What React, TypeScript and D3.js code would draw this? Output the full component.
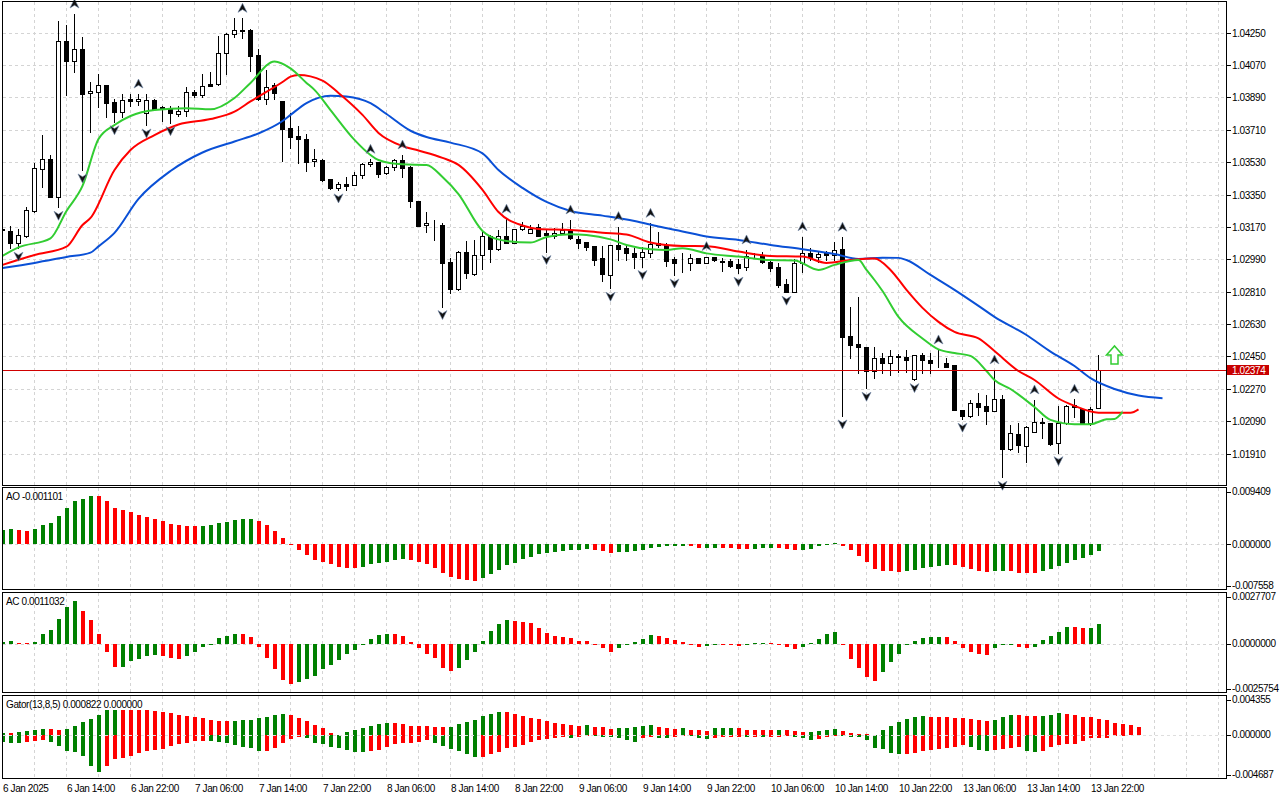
import React, { useEffect, useRef } from 'react';
import * as d3 from 'd3';

// H1 candles, one row per bar: open, high, low, close
type Candle = [number, number, number, number];

const candles: Candle[] = [
  [1.03159, 1.03176, 1.03142, 1.03153], [1.03148, 1.03176, 1.03052, 1.03083], [1.03083, 1.03157, 1.03052, 1.03124],
  [1.03120, 1.03283, 1.03113, 1.03263], [1.03259, 1.03524, 1.03255, 1.03496], [1.03491, 1.03681, 1.03394, 1.03546],
  [1.03546, 1.03570, 1.03336, 1.03338], [1.03338, 1.04315, 1.03279, 1.04204], [1.04204, 1.04293, 1.03904, 1.04095],
  [1.04095, 1.04354, 1.04033, 1.04158], [1.04158, 1.04225, 1.03487, 1.03909], [1.03913, 1.03978, 1.03700, 1.03928],
  [1.03922, 1.04021, 1.03839, 1.03959], [1.03959, 1.03962, 1.03783, 1.03861], [1.03865, 1.03880, 1.03755, 1.03808],
  [1.03808, 1.03908, 1.03783, 1.03876], [1.03880, 1.03908, 1.03844, 1.03872], [1.03870, 1.03909, 1.03848, 1.03882],
  [1.03805, 1.03909, 1.03737, 1.03876], [1.03876, 1.03882, 1.03820, 1.03824], [1.03835, 1.03843, 1.03761, 1.03828],
  [1.03826, 1.03843, 1.03750, 1.03802], [1.03797, 1.03843, 1.03787, 1.03815], [1.03815, 1.03947, 1.03787, 1.03919],
  [1.03922, 1.03932, 1.03891, 1.03904], [1.03904, 1.04021, 1.03894, 1.03956], [1.03963, 1.04033, 1.03954, 1.03956],
  [1.03963, 1.04232, 1.03961, 1.04136], [1.04136, 1.04247, 1.04021, 1.04243], [1.04241, 1.04330, 1.04228, 1.04265],
  [1.04265, 1.04330, 1.04219, 1.04261], [1.04265, 1.04269, 1.04039, 1.04122], [1.04126, 1.04158, 1.03878, 1.03880],
  [1.03880, 1.04043, 1.03854, 1.03950], [1.03959, 1.03969, 1.03880, 1.03913], [1.03870, 1.03872, 1.03539, 1.03715],
  [1.03719, 1.03802, 1.03611, 1.03672], [1.03676, 1.03731, 1.03527, 1.03661], [1.03659, 1.03687, 1.03483, 1.03533],
  [1.03535, 1.03602, 1.03509, 1.03548], [1.03542, 1.03546, 1.03427, 1.03431], [1.03437, 1.03438, 1.03381, 1.03387],
  [1.03387, 1.03420, 1.03376, 1.03409], [1.03409, 1.03446, 1.03376, 1.03398], [1.03405, 1.03477, 1.03403, 1.03459],
  [1.03457, 1.03527, 1.03442, 1.03518], [1.03518, 1.03546, 1.03507, 1.03530], [1.03530, 1.03533, 1.03450, 1.03465],
  [1.03468, 1.03511, 1.03466, 1.03504], [1.03502, 1.03548, 1.03487, 1.03542], [1.03542, 1.03570, 1.03450, 1.03500],
  [1.03505, 1.03509, 1.03279, 1.03316], [1.03313, 1.03315, 1.03175, 1.03177], [1.03179, 1.03255, 1.03144, 1.03190],
  [1.03185, 1.03209, 1.03098, 1.03184], [1.03181, 1.03190, 1.02727, 1.02971], [1.02974, 1.02996, 1.02801, 1.02824],
  [1.02824, 1.03038, 1.02820, 1.03029], [1.03029, 1.03092, 1.02885, 1.02913], [1.02907, 1.03098, 1.02905, 1.03014],
  [1.03014, 1.03153, 1.02938, 1.03120], [1.03120, 1.03125, 1.02977, 1.03046], [1.03046, 1.03153, 1.03042, 1.03120],
  [1.03120, 1.03213, 1.03079, 1.03083], [1.03083, 1.03160, 1.03082, 1.03159], [1.03159, 1.03199, 1.03153, 1.03176],
  [1.03135, 1.03181, 1.03134, 1.03159], [1.03172, 1.03185, 1.03120, 1.03122], [1.03135, 1.03153, 1.03033, 1.03124],
  [1.03122, 1.03163, 1.03107, 1.03135], [1.03135, 1.03190, 1.03131, 1.03153], [1.03153, 1.03209, 1.03101, 1.03107],
  [1.03101, 1.03122, 1.03052, 1.03083], [1.03085, 1.03086, 1.03042, 1.03061], [1.03064, 1.03065, 1.02959, 1.02986],
  [1.02996, 1.03064, 1.02871, 1.02907], [1.02903, 1.03071, 1.02829, 1.03070], [1.03070, 1.03172, 1.02986, 1.03049],
  [1.03052, 1.03070, 1.02986, 1.03024], [1.03027, 1.03052, 1.02944, 1.03005], [1.03005, 1.03060, 1.02950, 1.03031],
  [1.03027, 1.03190, 1.03005, 1.03074], [1.03083, 1.03144, 1.03060, 1.03070], [1.03070, 1.03083, 1.02953, 1.02983],
  [1.02992, 1.03005, 1.02903, 1.02968], [1.02971, 1.03024, 1.02921, 1.02970], [1.02968, 1.03020, 1.02931, 1.02996],
  [1.02996, 1.02998, 1.02969, 1.02971], [1.02971, 1.03005, 1.02969, 1.03001], [1.03001, 1.03005, 1.02983, 1.02986],
  [1.02983, 1.02996, 1.02925, 1.02974], [1.02981, 1.02990, 1.02949, 1.02953], [1.02964, 1.02990, 1.02913, 1.02944],
  [1.02946, 1.03042, 1.02931, 1.03010], [1.03009, 1.03024, 1.02996, 1.03008], [1.03010, 1.03033, 1.02971, 1.02977],
  [1.02977, 1.02986, 1.02927, 1.02944], [1.02946, 1.02971, 1.02835, 1.02847], [1.02853, 1.02881, 1.02807, 1.02810],
  [1.02810, 1.02990, 1.02808, 1.02968], [1.02968, 1.03116, 1.02921, 1.03024], [1.03024, 1.03052, 1.02986, 1.03001],
  [1.03001, 1.03033, 1.02977, 1.03020], [1.03024, 1.03038, 1.02986, 1.03014], [1.03014, 1.03085, 1.02986, 1.03042],
  [1.03046, 1.03113, 1.02119, 1.02560], [1.02564, 1.02727, 1.02440, 1.02514], [1.02519, 1.02779, 1.02360, 1.02501],
  [1.02504, 1.02505, 1.02273, 1.02371], [1.02369, 1.02501, 1.02329, 1.02440], [1.02440, 1.02471, 1.02357, 1.02412],
  [1.02412, 1.02486, 1.02347, 1.02453], [1.02454, 1.02462, 1.02365, 1.02447], [1.02445, 1.02486, 1.02365, 1.02430],
  [1.02323, 1.02460, 1.02321, 1.02458], [1.02458, 1.02468, 1.02360, 1.02430], [1.02430, 1.02468, 1.02360, 1.02415],
  [1.02418, 1.02486, 1.02393, 1.02417], [1.02415, 1.02440, 1.02390, 1.02393], [1.02403, 1.02405, 1.02150, 1.02152],
  [1.02152, 1.02153, 1.02101, 1.02119], [1.02119, 1.02208, 1.02115, 1.02190], [1.02190, 1.02245, 1.02125, 1.02171],
  [1.02175, 1.02236, 1.02075, 1.02148], [1.02148, 1.02375, 1.02147, 1.02212], [1.02212, 1.02236, 1.01778, 1.01934],
  [1.01934, 1.02069, 1.01930, 1.02023], [1.02019, 1.02079, 1.01921, 1.01958], [1.01954, 1.02063, 1.01865, 1.02056],
  [1.02028, 1.02208, 1.02027, 1.02084], [1.02084, 1.02106, 1.01995, 1.02079], [1.02079, 1.02080, 1.01958, 1.01963],
  [1.01967, 1.02175, 1.01915, 1.02079], [1.02079, 1.02180, 1.02075, 1.02175], [1.02179, 1.02212, 1.02115, 1.02168],
  [1.02156, 1.02164, 1.02075, 1.02079], [1.02079, 1.02171, 1.02069, 1.02156], [1.02165, 1.02458, 1.02163, 1.02374],
];

const aoValues = [
  0.00238, 0.00255, 0.00240, 0.00236, 0.00255, 0.00322, 0.00357, 0.00475, 0.00611, 0.00730,
  0.00764, 0.00820, 0.00816, 0.00730, 0.00611, 0.00577, 0.00549, 0.00504, 0.00464, 0.00424,
  0.00390, 0.00340, 0.00322, 0.00311, 0.00308, 0.00312, 0.00328, 0.00362, 0.00379, 0.00407,
  0.00424, 0.00426, 0.00396, 0.00328, 0.00226, 0.00107, 0.00002, -0.00088, -0.00173, -0.00260,
  -0.00294, -0.00339, -0.00385, -0.00396, -0.00398, -0.00379, -0.00339, -0.00322, -0.00294, -0.00272,
  -0.00255, -0.00258, -0.00294, -0.00328, -0.00396, -0.00481, -0.00549, -0.00594, -0.00611, -0.00613,
  -0.00566, -0.00509, -0.00441, -0.00356, -0.00311, -0.00255, -0.00209, -0.00170, -0.00153, -0.00130,
  -0.00119, -0.00102, -0.00100, -0.00085, -0.00102, -0.00119, -0.00153, -0.00136, -0.00130, -0.00119,
  -0.00102, -0.00068, -0.00051, -0.00034, -0.00032, -0.00030, -0.00033, -0.00058, -0.00056, -0.00054,
  -0.00056, -0.00058, -0.00074, -0.00075, -0.00073, -0.00057, -0.00055, -0.00057, -0.00074, -0.00090,
  -0.00088, -0.00074, -0.00034, -0.00005, 0.00028, -0.00034, -0.00102, -0.00192, -0.00294, -0.00413,
  -0.00447, -0.00449, -0.00464, -0.00447, -0.00430, -0.00396, -0.00379, -0.00362, -0.00345, -0.00347,
  -0.00379, -0.00413, -0.00447, -0.00464, -0.00447, -0.00445, -0.00447, -0.00481, -0.00483, -0.00485,
  -0.00447, -0.00413, -0.00362, -0.00311, -0.00260, -0.00226, -0.00175, -0.001101,
];

const acValues = [
  0.00010, 0.00015, 0.00005, 0.00002, 0.00011, 0.00055, 0.00076, 0.00137, 0.00202, 0.00235,
  0.00180, 0.00131, 0.00055, -0.00047, -0.00129, -0.00128, -0.00096, -0.00082, -0.00069, -0.00060,
  -0.00064, -0.00075, -0.00082, -0.00064, -0.00047, -0.00020, -0.00004, 0.00029, 0.00040, 0.00056,
  0.00055, 0.00035, -0.00020, -0.00075, -0.00137, -0.00197, -0.00218, -0.00211, -0.00191, -0.00173,
  -0.00137, -0.00113, -0.00086, -0.00053, -0.00036, -0.00007, 0.00027, 0.00049, 0.00055, 0.00054,
  0.00044, 0.00011, -0.00022, -0.00053, -0.00080, -0.00131, -0.00146, -0.00131, -0.00091, -0.00047,
  0.00016, 0.00071, 0.00109, 0.00131, 0.00126, 0.00120, 0.00111, 0.00087, 0.00060, 0.00044,
  0.00038, 0.00033, 0.00016, 0.00015, -0.00005, -0.00022, -0.00044, -0.00022, -0.00004, 0.00011,
  0.00027, 0.00049, 0.00044, 0.00033, 0.00022, 0.00011, -0.00004, -0.00015, -0.00011, -0.00004,
  -0.00006, -0.00008, -0.00010, -0.00006, 0.00003, 0.00006, 0.00002, -0.00004, -0.00015, -0.00027,
  -0.00015, 0.00004, 0.00027, 0.00055, 0.00066, -0.00009, -0.00082, -0.00131, -0.00180, -0.00202,
  -0.00153, -0.00098, -0.00055, -0.00003, 0.00016, 0.00033, 0.00038, 0.00039, 0.00037, 0.00016,
  -0.00022, -0.00044, -0.00055, -0.00060, -0.00022, -0.00007, -0.00002, -0.00015, -0.00022, -0.00015,
  0.00022, 0.00044, 0.00066, 0.00093, 0.00092, 0.00087, 0.00088, 0.0011032,
];

// Gator histogram: |jaws - teeth| above zero, -|teeth - lips| below zero
const gatorUpper = [
  0.00025, 0.00018, 0.00029, 0.00047, 0.00054, 0.00065, 0.00064, 0.00054, 0.00065, 0.00098,
  0.00145, 0.00171, 0.00218, 0.00272, 0.00274, 0.00272, 0.00271, 0.00270, 0.00268, 0.00265,
  0.00250, 0.00236, 0.00221, 0.00207, 0.00192, 0.00185, 0.00167, 0.00156, 0.00155, 0.00157,
  0.00163, 0.00164, 0.00185, 0.00200, 0.00218, 0.00229, 0.00214, 0.00185, 0.00149, 0.00113,
  0.00073, 0.00025, 0.00005, 0.00036, 0.00058, 0.00080, 0.00102, 0.00123, 0.00134, 0.00133,
  0.00123, 0.00102, 0.00101, 0.00100, 0.00091, 0.00090, 0.00092, 0.00123, 0.00145, 0.00167,
  0.00211, 0.00232, 0.00254, 0.00253, 0.00225, 0.00203, 0.00189, 0.00178, 0.00156, 0.00134,
  0.00123, 0.00113, 0.00102, 0.00104, 0.00091, 0.00090, 0.00069, 0.00080, 0.00081, 0.00091,
  0.00102, 0.00113, 0.00090, 0.00080, 0.00069, 0.00080, 0.00058, 0.00057, 0.00047, 0.00073,
  0.00074, 0.00075, 0.00073, 0.00058, 0.00057, 0.00056, 0.00055, 0.00057, 0.00050, 0.00046,
  0.00033, 0.00035, 0.00047, 0.00058, 0.00069, 0.00047, 0.00025, 0.00015, 0.00013, 0.00003,
  0.00058, 0.00102, 0.00145, 0.00178, 0.00200, 0.00211, 0.00200, 0.00199, 0.00198, 0.00189,
  0.00188, 0.00178, 0.00167, 0.00156, 0.00167, 0.00200, 0.00221, 0.00220, 0.00211, 0.00210,
  0.00212, 0.00221, 0.00243, 0.00232, 0.00221, 0.00200, 0.00199, 0.00178, 0.00160, 0.00134,
  0.00123, 0.00113, 0.000822,
];

const gatorLower = [
  -0.00073, -0.00083, -0.00087, -0.00073, -0.00065, -0.00054, -0.00073, -0.00116, -0.00171, -0.00182,
  -0.00229, -0.00334, -0.00399, -0.00334, -0.00258, -0.00247, -0.00229, -0.00200, -0.00174, -0.00160,
  -0.00149, -0.00116, -0.00102, -0.00091, -0.00065, -0.00062, -0.00065, -0.00073, -0.00091, -0.00109,
  -0.00127, -0.00142, -0.00171, -0.00170, -0.00145, -0.00091, -0.00044, -0.00020, -0.00036, -0.00083,
  -0.00102, -0.00127, -0.00138, -0.00163, -0.00182, -0.00183, -0.00171, -0.00160, -0.00127, -0.00102,
  -0.00091, -0.00083, -0.00073, -0.00058, -0.00083, -0.00116, -0.00152, -0.00171, -0.00203, -0.00236,
  -0.00235, -0.00203, -0.00182, -0.00138, -0.00127, -0.00105, -0.00073, -0.00058, -0.00047, -0.00029,
  -0.00022, -0.00029, -0.00022, -0.00015, -0.00016, -0.00018, -0.00022, -0.00036, -0.00058, -0.00073,
  -0.00036, -0.00025, -0.00036, -0.00037, -0.00025, -0.00004, -0.00011, -0.00036, -0.00047, -0.00036,
  -0.00022, -0.00021, -0.00020, -0.00022, -0.00021, -0.00022, -0.00021, -0.00020, -0.00011, -0.00018,
  -0.00029, -0.00051, -0.00048, -0.00018, -0.00007, -0.00008, -0.00018, -0.00019, -0.00058, -0.00138,
  -0.00149, -0.00192, -0.00203, -0.00202, -0.00192, -0.00171, -0.00160, -0.00149, -0.00138, -0.00127,
  -0.00105, -0.00127, -0.00160, -0.00171, -0.00160, -0.00149, -0.00138, -0.00127, -0.00171, -0.00182,
  -0.00171, -0.00127, -0.00105, -0.00094, -0.00093, -0.00065, -0.00036, -0.00035, -0.00029, -0.00015,
  -0.00005, 0, 0,
];

// Alligator lines as [bar, price], already shifted forward (jaws 8, teeth 5, lips 3)
const jawPoints: [number, number][] = [
  [0, 1.02942], [4, 1.02970], [8, 1.03003], [11, 1.03027], [12, 1.03062], [14, 1.03137], [17, 1.03326],
  [21, 1.03481], [25, 1.03584], [29, 1.03645], [32, 1.03690], [35, 1.03759], [36, 1.03793], [38, 1.03859],
  [41, 1.03900], [43, 1.03895], [46, 1.03858], [48, 1.03798], [51, 1.03705], [53, 1.03670], [56, 1.03639],
  [60, 1.03579], [62, 1.03487], [65, 1.03387], [68, 1.03309], [71, 1.03259], [75, 1.03233], [79, 1.03203],
  [82, 1.03172], [85, 1.03145], [88, 1.03117], [92, 1.03098], [96, 1.03070], [100, 1.03046], [104, 1.03020],
  [107, 1.02992], [110, 1.02999], [112, 1.02998], [113, 1.02986], [116, 1.02903], [119, 1.02820],
  [122, 1.02731], [124, 1.02670], [128, 1.02569], [131, 1.02477], [134, 1.02397], [136, 1.02329],
  [139, 1.02269], [142, 1.02233], [145, 1.02218],
];

const teethPoints: [number, number][] = [
  [0, 1.02959], [4, 1.03014], [8, 1.03060], [10, 1.03181], [11, 1.03220], [14, 1.03487], [16, 1.03598],
  [19, 1.03681], [22, 1.03740], [26, 1.03770], [29, 1.03811], [31, 1.03868], [35, 1.03976], [36, 1.04006],
  [37, 1.04015], [40, 1.03984], [42, 1.03915], [45, 1.03793], [47, 1.03693], [50, 1.03620], [52, 1.03595],
  [55, 1.03554], [57, 1.03515], [60, 1.03376], [62, 1.03253], [65, 1.03178], [67, 1.03159], [71, 1.03153],
  [75, 1.03138], [78, 1.03128], [81, 1.03083], [85, 1.03064], [88, 1.03063], [92, 1.03033], [96, 1.03009],
  [100, 1.03005], [103, 1.02970], [106, 1.02986], [109, 1.02995], [111, 1.02931], [113, 1.02820],
  [115, 1.02720], [117, 1.02642], [119, 1.02586], [122, 1.02550], [124, 1.02480], [127, 1.02369],
  [129, 1.02319], [132, 1.02216], [134, 1.02175], [137, 1.02137], [141, 1.02137], [142, 1.02156],
];

const lipsPoints: [number, number][] = [
  [0, 1.03009], [2, 1.03056], [6, 1.03107], [8, 1.03259], [10, 1.03398], [12, 1.03659], [14, 1.03737],
  [16, 1.03787], [19, 1.03820], [23, 1.03830], [26, 1.03824], [29, 1.03887], [31, 1.03971], [34, 1.04090],
  [36, 1.04052], [38, 1.03971], [39, 1.03932], [41, 1.03820], [44, 1.03654], [46, 1.03570], [47, 1.03542],
  [50, 1.03518], [53, 1.03515], [55, 1.03448], [57, 1.03353], [60, 1.03148], [61, 1.03116], [63, 1.03092],
  [66, 1.03083], [68, 1.03114], [71, 1.03129], [73, 1.03125], [76, 1.03101], [78, 1.03070], [81, 1.03046],
  [83, 1.03042], [85, 1.03052], [88, 1.03023], [92, 1.03005], [96, 1.02986], [99, 1.02984], [102, 1.02931],
  [104, 1.02959], [107, 1.02986], [108, 1.02931], [109, 1.02875], [110, 1.02814], [112, 1.02670],
  [115, 1.02550], [117, 1.02489], [119, 1.02469], [121, 1.02453], [123, 1.02369], [124, 1.02319],
  [126, 1.02269], [129, 1.02169], [131, 1.02097], [134, 1.02073], [136, 1.02073], [138, 1.02100],
  [139, 1.02102], [140, 1.02141],
];

const fractalsUp = [9, 17, 30, 46, 50, 63, 71, 77, 81, 88, 93, 100, 105, 117, 124, 129, 134];
const fractalsDown = [2, 7, 10, 14, 18, 21, 42, 55, 68, 76, 80, 84, 92, 98, 105, 108, 114, 120, 125, 132];

const signalBar = 139;
const signalPrice = 1.02408;
const currentPrice = 1.02374;

const priceTicks = [
  1.0425, 1.0407, 1.0389, 1.0371, 1.0353, 1.0335, 1.0317,
  1.0299, 1.0281, 1.0263, 1.0245, 1.0227, 1.0209, 1.0191,
];

const timeLabels = [
  '6 Jan 2025', '6 Jan 14:00', '6 Jan 22:00', '7 Jan 06:00', '7 Jan 14:00', '7 Jan 22:00',
  '8 Jan 06:00', '8 Jan 14:00', '8 Jan 22:00', '9 Jan 06:00', '9 Jan 14:00', '9 Jan 22:00',
  '10 Jan 06:00', '10 Jan 14:00', '10 Jan 22:00', '13 Jan 06:00', '13 Jan 14:00', '13 Jan 22:00',
];

const aoRange = [-0.007558, 0.009409];
const acRange = [-0.0025754, 0.0027707];
const gatorRange = [-0.004687, 0.004355];

const GREEN = '#008000';
const RED = '#ff0000';
const FONT = "'Liberation Sans', Arial, sans-serif";

const App: React.FC = () => {
  const svgRef = useRef<SVGSVGElement>(null);

  useEffect(() => {
    if (!svgRef.current) return;
    const svg = d3.select(svgRef.current);
    svg.selectAll('*').remove();

    const left = 2.5;
    const right = 1226.5;
    const main = { top: 1.5, bottom: 485.5 };
    const aoP = { top: 487.5, bottom: 589.5 };
    const acP = { top: 592.5, bottom: 692.5 };
    const gP = { top: 695.5, bottom: 778.5 };
    const panels = [main, aoP, acP, gP];

    // one bar every 8 px
    const x = d3.scaleLinear().domain([0, 153]).range([2, 2 + 153 * 8]);
    const y = d3.scaleLinear().domain([1.01735, 1.04432]).range([485, 0]);
    const yAO = d3.scaleLinear().domain(aoRange).range([589, 489]);
    const yAC = d3.scaleLinear().domain(acRange).range([691, 593]);
    const yG = d3.scaleLinear().domain(gatorRange).range([778, 695]);

    svg.append('rect').attr('width', 1280).attr('height', 800).attr('fill', '#ffffff');

    const defs = svg.append('defs');
    panels.forEach((p, i) => {
      defs.append('clipPath').attr('id', `clip${i}`)
        .append('rect').attr('x', left).attr('y', p.top).attr('width', right - left).attr('height', p.bottom - p.top);
    });

    // grid
    const grid = svg.append('g').attr('stroke', '#d4d4d4').attr('stroke-dasharray', '3,3')
      .attr('shape-rendering', 'crispEdges');
    const gridBars = d3.range(4, 153, 4);
    panels.forEach((p) => {
      grid.selectAll(null).data(gridBars).enter().append('line')
        .attr('x1', (d) => x(d) + 0.5).attr('x2', (d) => x(d) + 0.5)
        .attr('y1', p.top).attr('y2', p.bottom);
    });
    grid.selectAll(null).data(priceTicks).enter().append('line')
      .attr('x1', left).attr('x2', right)
      .attr('y1', (d) => Math.round(y(d)) + 0.5).attr('y2', (d) => Math.round(y(d)) + 0.5);
    [yAO, yAC].forEach((s) => {
      grid.append('line').attr('x1', left).attr('x2', right)
        .attr('y1', Math.round(s(0)) + 0.5).attr('y2', Math.round(s(0)) + 0.5);
    });

    // candles
    const cg = svg.append('g').attr('clip-path', 'url(#clip0)').attr('shape-rendering', 'crispEdges');
    candles.forEach((c, i) => {
      const [o, h, l, cl] = c;
      const cx = x(i);
      cg.append('line').attr('x1', cx + 0.5).attr('x2', cx + 0.5)
        .attr('y1', Math.round(y(h))).attr('y2', Math.round(y(l)) + 1)
        .attr('stroke', '#000');
      const top = Math.round(y(Math.max(o, cl)));
      const bot = Math.round(y(Math.min(o, cl)));
      cg.append('rect').attr('x', cx - 1.5).attr('y', top + 0.5)
        .attr('width', 4).attr('height', Math.max(0, bot - top))
        .attr('fill', cl >= o ? '#ffffff' : '#000000').attr('stroke', '#000');
    });

    // alligator
    const line = d3.line<[number, number]>()
      .x((d) => x(d[0]) + 0.5).y((d) => y(d[1])).curve(d3.curveMonotoneX);
    const lg = svg.append('g').attr('clip-path', 'url(#clip0)').attr('fill', 'none').attr('stroke-width', 2);
    lg.append('path').datum(jawPoints).attr('d', line).attr('stroke', '#0a50d6');
    lg.append('path').datum(teethPoints).attr('d', line).attr('stroke', '#ff0000');
    lg.append('path').datum(lipsPoints).attr('d', line).attr('stroke', '#32cd32');

    // fractals
    const fg = svg.append('g').attr('fill', '#111').attr('stroke', '#6f86a8').attr('stroke-width', 0.6);
    fractalsUp.forEach((i) => {
      fg.append('path').attr('transform', `translate(${x(i) + 0.5},${y(candles[i][1]) - 10})`)
        .attr('d', 'M0,-5 L4.5,4 L0,1.2 L-4.5,4 Z');
    });
    fractalsDown.forEach((i) => {
      fg.append('path').attr('transform', `translate(${x(i) + 0.5},${y(candles[i][2]) + 8})`)
        .attr('d', 'M0,5 L4.5,-4 L0,-1.2 L-4.5,-4 Z');
    });

    // buy signal arrow
    const sx = x(signalBar) + 0.5;
    const sy = y(signalPrice);
    svg.append('path')
      .attr('d', `M${sx - 3.5},${sy} L${sx - 3.5},${sy - 9} L${sx - 8},${sy - 9} L${sx},${sy - 18} L${sx + 8},${sy - 9} L${sx + 3.5},${sy - 9} L${sx + 3.5},${sy} Z`)
      .attr('fill', '#ffffff').attr('stroke', '#32cd32').attr('stroke-width', 1.5);

    // current price line
    const cy = Math.round(y(currentPrice)) + 0.5;
    svg.append('line').attr('x1', left).attr('x2', right).attr('y1', cy).attr('y2', cy)
      .attr('stroke', '#d00000').attr('shape-rendering', 'crispEdges');

    // histograms
    const hist = (vals: number[], s: d3.ScaleLinear<number, number>, clip: string, useAbs: boolean) => {
      const g = svg.append('g').attr('clip-path', clip).attr('shape-rendering', 'crispEdges');
      const z = s(0);
      vals.forEach((v, i) => {
        if (v === 0) return;
        const prev = i > 0 ? vals[i - 1] : v - 1;
        const up = useAbs ? Math.abs(v) > Math.abs(prev) : v > prev;
        const yv = s(v);
        g.append('rect').attr('x', x(i) - 1.5).attr('width', 4)
          .attr('y', Math.min(z, yv)).attr('height', Math.max(1, Math.abs(z - yv)))
          .attr('fill', i === 0 || up ? GREEN : RED);
      });
    };
    hist(aoValues, yAO, 'url(#clip1)', false);
    hist(acValues, yAC, 'url(#clip2)', false);
    hist(gatorUpper, yG, 'url(#clip3)', false);
    hist(gatorLower, yG, 'url(#clip3)', true);
    svg.append('line').attr('x1', left).attr('x2', right)
      .attr('y1', Math.round(yG(0)) + 0.5).attr('y2', Math.round(yG(0)) + 0.5)
      .attr('stroke', '#dedede').attr('stroke-dasharray', '3,3').attr('shape-rendering', 'crispEdges');

    // frames
    const fr = svg.append('g').attr('fill', 'none').attr('stroke', '#000').attr('shape-rendering', 'crispEdges');
    panels.forEach((p) => {
      fr.append('rect').attr('x', left).attr('y', p.top).attr('width', right - left).attr('height', p.bottom - p.top);
    });

    // current price tag sits under the axis text
    svg.append('rect').attr('x', 1227).attr('y', cy - 5.5).attr('width', 42).attr('height', 10).attr('fill', '#c80000');

    // text
    const tx = svg.append('g').attr('font-family', FONT).attr('font-size', 10)
      .attr('letter-spacing', -0.4).attr('fill', '#000');

    priceTicks.forEach((p) => {
      const yy = Math.round(y(p)) + 0.5;
      fr.append('line').attr('x1', right).attr('x2', right + 4).attr('y1', yy).attr('y2', yy);
      tx.append('text').attr('x', 1232).attr('y', yy + 3.5).text(p.toFixed(5));
    });

    tx.append('text').attr('x', 1232).attr('y', cy + 3.5).attr('fill', '#ffffff').text(currentPrice.toFixed(5));

    const sideLabels = (s: d3.ScaleLinear<number, number>, rng: number[], p: { top: number; bottom: number }, digits: number) => {
      const rows: [number, number][] = [[rng[1], p.top + 4], [0, s(0)], [rng[0], p.bottom - 4]];
      rows.forEach(([v, yy]) => {
        fr.append('line').attr('x1', right).attr('x2', right + 4)
          .attr('y1', Math.round(yy) + 0.5).attr('y2', Math.round(yy) + 0.5);
        tx.append('text').attr('x', 1232).attr('y', yy + 3.5).text(v.toFixed(digits));
      });
    };
    sideLabels(yAO, aoRange, aoP, 6);
    sideLabels(yAC, acRange, acP, 7);
    sideLabels(yG, gatorRange, gP, 6);

    tx.append('text').attr('x', 6).attr('y', 500)
      .text(`AO ${aoValues[aoValues.length - 1].toFixed(6)}`);
    tx.append('text').attr('x', 6).attr('y', 605)
      .text(`AC ${acValues[acValues.length - 1].toFixed(7)}`);
    tx.append('text').attr('x', 6).attr('y', 708)
      .text(`Gator(13,8,5) ${gatorUpper[gatorUpper.length - 1].toFixed(6)} ${Math.abs(gatorLower[gatorLower.length - 1]).toFixed(6)}`);

    timeLabels.forEach((t, i) => {
      tx.append('text').attr('x', x(i * 8) + 1).attr('y', 792).text(t);
    });
  }, []);

  return (
    <svg
      ref={svgRef}
      width={1280}
      height={800}
      style={{ position: 'absolute', left: 0, top: 0, display: 'block' }}
    />
  );
};

export default App;
